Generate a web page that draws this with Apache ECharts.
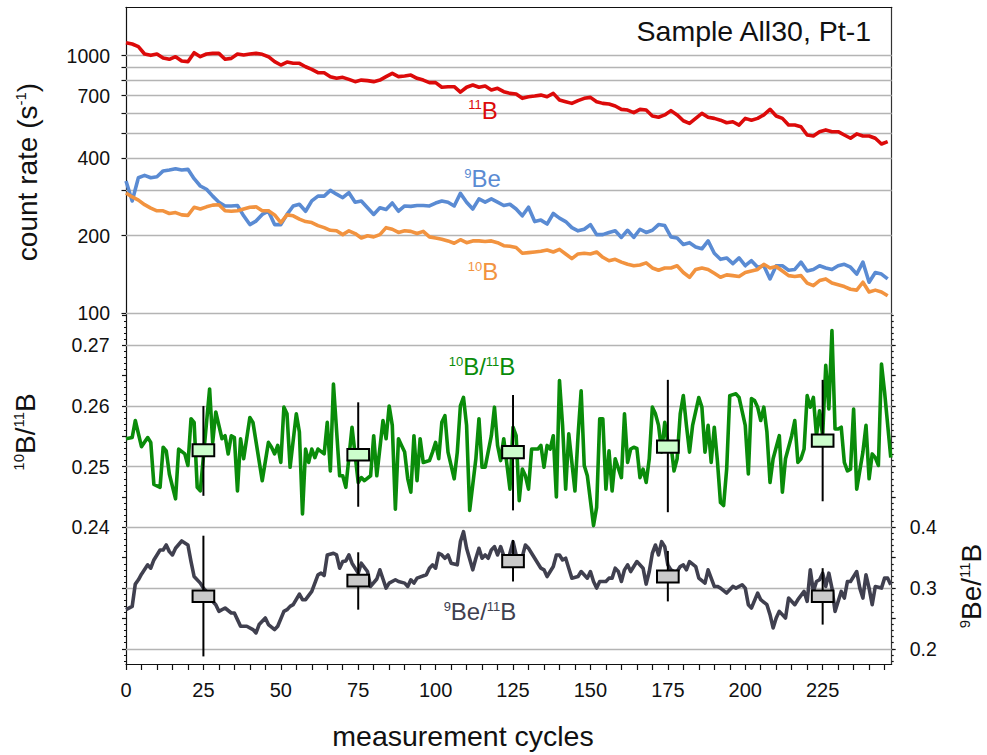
<!DOCTYPE html>
<html>
<head>
<meta charset="utf-8">
<script src="https://cdn.jsdelivr.net/npm/echarts@6/dist/echarts.min.js"></script>
<style>
  html, body { margin: 0; padding: 0; background: #fff; }
  #chart { width: 987px; height: 755px; }
</style>
</head>
<body>
<div id="chart"></div>
<script>
// ---------- measured count rates (every second cycle) ----------
const countCycles = [0,2,4,6,8,10,12,14,16,18,20,22,24,26,28,30,32,34,36,38,40,42,44,46,48,50,52,54,56,58,60,62,64,66,68,70,72,74,76,78,80,82,84,86,88,90,92,94,96,98,100,102,104,106,108,110,112,114,116,118,120,122,124,126,128,130,132,134,136,138,140,142,144,146,148,150,152,154,156,158,160,162,164,166,168,170,172,174,176,178,180,182,184,186,188,190,192,194,196,198,200,202,204,206,208,210,212,214,216,218,220,222,224,226,228,230,232,234,236,238,240,242,244,246];

const boron11Rate = [1123,1110,1084,1015,1003,1015,979,968,991,953,
  948,1027,991,1015,1021,1021,968,976,1015,1006,
  1015,1021,1012,991,948,920,945,934,934,906,
  885,859,859,829,817,824,809,793,804,800,
  793,804,829,854,829,834,841,817,804,786,
  786,754,758,758,722,754,769,754,762,736,
  747,725,714,710,683,693,697,703,693,714,
  673,663,653,669,683,689,663,653,649,638,
  619,615,601,619,615,583,577,589,612,589,
  559,546,571,597,577,571,562,549,554,538,
  571,562,571,589,619,583,571,538,538,530,
  492,488,507,515,507,507,492,478,497,488,
  488,478,454,464];

const beryllium9Rate = [326,273,336,343,336,339,357,360,364,360,
  362,333,312,303,285,270,261,261,262,239,
  221,228,242,249,221,221,242,261,265,249,
  273,285,285,300,290,281,294,270,273,257,
  242,257,253,268,249,261,260,262,262,261,
  268,273,270,261,292,270,254,278,270,278,
  270,262,265,254,239,258,227,230,222,244,
  234,227,215,209,212,221,202,202,206,209,
  197,210,197,212,206,210,221,219,198,196,
  185,188,181,178,191,171,162,164,156,164,
  153,160,151,153,136,153,153,147,148,158,
  146,148,153,150,148,153,155,151,142,158,
  132,144,142,136];

const boron10Rate = [293,283,275,264,256,250,250,244,246,241,
  240,258,254,259,263,264,250,249,250,254,
  258,259,250,250,241,225,241,239,232,227,
  225,219,215,210,209,202,209,204,196,200,
  198,202,215,212,206,209,208,204,208,198,
  196,194,191,187,193,188,191,191,190,191,
  188,183,182,180,171,172,173,174,176,173,
  177,170,163,170,171,170,173,165,160,162,
  158,155,153,154,157,150,147,150,150,153,
  144,138,148,150,148,143,138,141,140,139,
  144,146,148,155,150,152,146,140,139,140,
  131,128,134,136,131,129,127,124,123,132,
  121,123,121,117];

// ---------- isotope ratios ----------
const b10b11Cycles = [0,2,3,5,7,8,9,11,12,13,14,16,17,19,20,21,22,23,24,27,28,29,30,31,32,33,34,35,36,37,38,40,41,44,46,47,48,49,50,51,52,53,55,56,57,58,59,60,61,62,64,65,66,67,69,70,71,73,75,76,77,79,80,81,83,84,
  85,86,87,88,89,90,91,92,93,94,95,96,98,99,100,101,102,103,104,106,107,108,109,110,111,113,114,115,116,118,119,120,121,122,124,125,126,127,128,129,130,131,133,134,135,136,137,138,139,140,141,142,143,145,146,147,148,149,151,152,153,154,155,156,157,158,160,161,162,
  163,164,165,166,167,168,169,170,171,172,173,174,175,176,177,178,179,180,181,182,183,185,186,187,188,189,190,191,192,193,194,195,197,198,200,201,202,203,204,205,206,207,208,209,211,212,213,215,216,217,218,219,220,221,222,223,224,225,226,227,228,229,230,231,232,233,234,235,236,238,239,240,241,242,243,244,245,247];

const b10b11Ratio = [0.2546,0.2548,0.2576,0.2533,0.2548,0.2540,0.2471,0.2466,0.2532,0.2526,0.2488,0.2447,0.2529,0.2521,0.2502,0.2579,0.2573,0.2466,0.2460,0.2628,0.2540,0.2590,0.2568,0.2546,0.2551,0.2521,0.2551,0.2548,0.2460,0.2546,0.2513,0.2581,0.2573,0.2477,0.2540,0.2532,0.2521,0.2535,0.2507,0.2598,0.2587,0.2499,0.2587,0.2557,0.2422,0.2529,0.2507,0.2529,0.2515,0.2529,0.2521,0.2573,0.2493,0.2636,0.2485,0.2485,0.2466,0.2565,0.2474,0.2482,0.2477,0.2485,0.2551,0.2485,0.2576,0.2546,
  0.2600,0.2568,0.2430,0.2546,0.2535,0.2524,0.2480,0.2458,0.2551,0.2477,0.2546,0.2507,0.2510,0.2524,0.2540,0.2513,0.2573,0.2584,0.2524,0.2480,0.2524,0.2600,0.2614,0.2568,0.2428,0.2513,0.2579,0.2499,0.2499,0.2551,0.2598,0.2535,0.2510,0.2546,0.2463,0.2565,0.2551,0.2444,0.2496,0.2485,0.2463,0.2529,0.2529,0.2535,0.2499,0.2535,0.2529,0.2551,0.2450,0.2642,0.2568,0.2463,0.2554,0.2460,0.2551,0.2625,0.2502,0.2485,0.2403,0.2433,0.2579,0.2579,0.2463,0.2526,0.2460,0.2513,0.2482,0.2587,0.2507,
  0.2529,0.2532,0.2530,0.2482,0.2496,0.2474,0.2513,0.2598,0.2587,0.2568,0.2524,0.2573,0.2540,0.2537,0.2493,0.2513,0.2587,0.2617,0.2568,0.2524,0.2568,0.2614,0.2598,0.2524,0.2568,0.2507,0.2565,0.2510,0.2441,0.2436,0.2496,0.2617,0.2620,0.2614,0.2568,0.2488,0.2612,0.2609,0.2598,0.2576,0.2598,0.2557,0.2474,0.2513,0.2551,0.2458,0.2513,0.2551,0.2576,0.2507,0.2513,0.2529,0.2617,0.2598,0.2614,0.2551,0.2592,0.2551,0.2667,0.2595,0.2724,0.2562,0.2562,0.2565,0.2507,0.2493,0.2496,0.2595,0.2463,0.2524,0.2568,0.2480,0.2521,0.2515,0.2502,0.2669,0.2623,0.2515];

const be9b11Cycles = [0,2,3,4,5,7,8,9,10,11,12,13,14,15,16,18,20,21,22,24,25,26,27,29,30,32,34,35,36,37,39,41,42,43,45,46,48,49,51,52,53,54,56,57,58,60,62,63,64,65,67,68,69,70,71,72,73,75,76,78,79,81,82,83,84,85,87,88,90,91,92,93,94,97,98,99,100,101,102,103,104,105,107,108,109,110,112,113,114,115,116,117,118,119,120,121,123,125,126,127,128,129,130,132,134,135,136,138,139,140,141,142,143,144,146,147,149,150,151,152,153,155,156,157,158,159,160,161,162,163,164,165,167,168,169,170,171,172,173,174,175,176,177,178,179,180,181,182,184,185,187,188,190,191,192,194,196,197,199,200,201,202,204,205,207,208,209,210,211,213,214,216,217,219,220,221,222,223,224,225,226,227,228,229,231,232,233,234,236,237,238,239,240,241,242,244,245,246,247];

const be9b11Ratio = [0.2645,0.2699,0.3066,0.3137,0.3230,0.3383,0.3328,0.3464,0.3546,0.3628,0.3628,0.3710,0.3601,0.3546,0.3656,0.3776,0.3710,0.3437,0.3191,0.3082,0.3000,0.2945,0.2836,0.2727,0.2617,0.2672,0.2590,0.2590,0.2481,0.2372,0.2372,0.2317,0.2262,0.2399,0.2508,0.2399,0.2317,0.2372,0.2617,0.2645,0.2699,0.2727,0.2902,0.2809,0.2809,0.2945,0.3219,0.3246,0.3208,0.3546,0.3574,0.3546,0.3328,0.3437,0.3448,0.3546,0.3410,0.3246,0.3410,0.3273,0.3027,0.3150,0.3301,0.3150,0.3000,0.3082,0.3137,0.3109,0.3082,0.3027,0.3137,0.3082,0.3164,0.3219,0.3328,0.3383,0.3328,0.3574,0.3546,0.3492,0.3546,0.3410,0.3383,0.3765,0.3929,0.3656,0.3301,0.3492,0.3656,0.3492,0.3546,0.3492,0.3628,0.3683,0.3546,0.3683,0.3383,0.3765,0.3546,0.3492,0.3519,0.3710,0.3656,0.3492,0.3328,0.3301,0.3191,0.3355,0.3546,0.3546,0.3464,0.3492,0.3328,0.3164,0.3191,0.3273,0.3164,0.3273,0.3109,0.3000,0.3109,0.3109,0.3164,0.3164,0.3328,0.3273,0.3109,0.3301,0.3383,0.3273,0.3355,0.3437,0.3328,0.3066,0.3273,0.3574,0.3710,0.3546,0.3765,0.3683,0.3383,0.3301,0.3273,0.3273,0.3355,0.3383,0.3301,0.3437,0.3355,0.3164,0.3082,0.3301,0.3027,0.3027,0.3000,0.2918,0.3027,0.3000,0.3055,0.3000,0.2727,0.2672,0.2918,0.2809,0.2727,0.2563,0.2344,0.2508,0.2617,0.2508,0.2836,0.2727,0.2809,0.2945,0.2781,0.3301,0.2945,0.3109,0.3137,0.3246,0.3027,0.3246,0.3000,0.2617,0.2945,0.2836,0.3109,0.3109,0.3273,0.3000,0.2836,0.3219,0.3000,0.2727,0.3027,0.3000,0.3164,0.3164,0.3055];

// ---------- block summaries: box = standard error, whisker = scatter ----------
const blockCycles = [25, 75, 125, 175, 225];
const b10b11BoxLow   = [0.2517, 0.2510, 0.2514, 0.2523, 0.2533];
const b10b11BoxHigh  = [0.2537, 0.2529, 0.2534, 0.2543, 0.2553];
const b10b11WhiskLow = [0.2452, 0.2434, 0.2428, 0.2425, 0.2443];
const b10b11WhiskHigh= [0.2600, 0.2606, 0.2618, 0.2643, 0.2643];
const be9b11BoxLow   = [0.2770, 0.3027, 0.3344, 0.3093, 0.2770];
const be9b11BoxHigh  = [0.2962, 0.3219, 0.3546, 0.3290, 0.2962];
const be9b11WhiskLow = [0.1875, 0.2645, 0.3109, 0.2781, 0.2399];
const be9b11WhiskHigh= [0.3863, 0.3590, 0.3792, 0.3612, 0.3328];

// ---------- axis ticks / labels ----------
const countTickValues  = [100, 200, 300, 400, 500, 600, 700, 800, 900, 1000];
const countLabelValues = [100, 200, 400, 700, 1000];
const cycleLabelValues = [0, 25, 50, 75, 100, 125, 150, 175, 200, 225];
const b10b11LabelValues = [0.24, 0.25, 0.26, 0.27];
const be9b11LabelValues = [0.2, 0.3, 0.4];
const b10b11GridValues = [0.24, 0.25, 0.26, 0.27];
const be9b11GridValues = [0.2, 0.3];

function steps(from, to, step) {
  const out = [];
  for (let i = 0; from + i * step <= to + step * 1e-6; i++) out.push(+(from + i * step).toFixed(4));
  return out;
}
const cycleTickValues = steps(0, 245, 5);
const b10b11Major = steps(0.22, 0.275, 0.005);
const b10b11Minor = steps(0.218, 0.275, 0.001);
const be9b11Major = steps(0.2, 0.7, 0.05);
const be9b11Minor = steps(0.18, 0.75, 0.01);

const zip = (xs, ys) => xs.map((x, i) => [x, ys[i]]);
const boxes = (lo, hi, wlo, whi) => blockCycles.map((c, i) => [c, lo[i], hi[i], wlo[i], whi[i]]);

// ---------- styling ----------
const FONT = '"Liberation Sans", Arial, Helvetica, sans-serif';
const GRID = '#b4b4b4';
const AXIS = '#111';
const C_B11 = '#dc0a0a';
const C_BE9 = '#5a8bd3';
const C_B10 = '#f2933f';
const C_RATIO10 = '#0a8c0a';
const C_RATIO9 = '#40404f';

const xMin = 0, xMax = 247.3;

function hiddenAxisParts() {
  return { axisTick: { show: false }, axisLabel: { show: false }, splitLine: { show: false } };
}
function tickStyle(values, len) {
  return { show: true, inside: false, length: len, customValues: values, lineStyle: { color: AXIS, width: 1.2 } };
}
function gridMarks(values) {
  return {
    silent: true, symbol: 'none', animation: false,
    label: { show: false },
    emphasis: { disabled: true },
    lineStyle: { color: GRID, width: 1.3, type: 'solid' },
    data: values.map(v => ({ yAxis: v }))
  };
}
function renderBlock(fill) {
  return function (params, api) {
    const x = api.value(0);
    const top = api.coord([x, api.value(4)]);
    const bot = api.coord([x, api.value(3)]);
    const bHi = api.coord([x, api.value(2)]);
    const bLo = api.coord([x, api.value(1)]);
    const half = api.size([3.5, 0])[0];
    return {
      type: 'group',
      children: [
        { type: 'line', shape: { x1: top[0], y1: top[1], x2: bot[0], y2: bot[1] },
          style: { stroke: '#000', lineWidth: 2 } },
        { type: 'rect', shape: { x: bHi[0] - half, y: bHi[1], width: half * 2, height: bLo[1] - bHi[1] },
          style: { fill: fill, stroke: '#000', lineWidth: 2 } }
      ]
    };
  };
}
function lineSeries(name, xi, yi, data, color) {
  return {
    name, type: 'line', xAxisIndex: xi, yAxisIndex: yi, data,
    showSymbol: false, symbol: 'none', z: 10,
    lineStyle: { color, width: 3.6, join: 'round' }, itemStyle: { color }
  };
}
const labelText = { fontFamily: FONT, fontSize: 19.5, color: '#111' };

function richLabel(text, x, y, color, size, supSize, rotation, align) {
  return {
    type: 'text', x, y, rotation: rotation || 0, z: 20,
    style: {
      text, align: align || 'center', verticalAlign: 'middle',
      fontFamily: FONT, fontSize: size, fill: color,
      rich: {
        n: { fontFamily: FONT, fontSize: size, fill: color, lineHeight: size },
        s: { fontFamily: FONT, fontSize: supSize, fill: color, verticalAlign: 'top', lineHeight: size }
      }
    }
  };
}

const chart = echarts.init(document.getElementById('chart'), null, { renderer: 'svg', width: 987, height: 755 });

chart.setOption({
  animation: false,
  backgroundColor: '#fff',
  grid: [
    { left: 126, right: 95.3, top: 7.3, height: 306 },
    { left: 126, right: 95.3, top: 313.3, height: 350.7 }
  ],
  xAxis: [
    Object.assign({ gridIndex: 0, type: 'value', min: xMin, max: xMax, position: 'top',
      axisLine: { show: true, onZero: false, lineStyle: { color: AXIS, width: 1.2 } } }, hiddenAxisParts()),
    { gridIndex: 1, type: 'value', min: xMin, max: xMax, position: 'bottom',
      axisLine: { show: true, onZero: false, lineStyle: { color: AXIS, width: 1.2 } },
      axisTick: tickStyle(cycleTickValues, 6),
      axisLabel: Object.assign({ customValues: cycleLabelValues, margin: 16, fontSize: 20 }, { fontFamily: FONT, color: '#111' }),
      splitLine: { show: false } }
  ],
  yAxis: [
    { gridIndex: 0, type: 'log', logBase: 10, min: 100, max: 1541, position: 'left',
      axisLine: { show: true, onZero: false, lineStyle: { color: AXIS, width: 1.2 } },
      axisTick: tickStyle(countTickValues, 4.5),
      axisLabel: Object.assign({ customValues: countLabelValues, margin: 16, formatter: v => String(Math.round(v)) }, labelText),
      splitLine: { show: false }, minorTick: { show: false } },
    Object.assign({ gridIndex: 0, type: 'value', min: 0, max: 1, position: 'right',
      axisLine: { show: true, onZero: false, lineStyle: { color: '#333', width: 1.2 } } }, hiddenAxisParts()),
    { gridIndex: 1, type: 'value', min: 0.2175, max: 0.27526, position: 'left',
      axisLine: { show: true, onZero: false, lineStyle: { color: AXIS, width: 1.2 } },
      axisTick: tickStyle(b10b11Major, 4),
      axisLabel: Object.assign({ customValues: b10b11LabelValues, margin: 16.5, formatter: v => v.toFixed(2) }, labelText),
      splitLine: { show: false } },
    { gridIndex: 1, type: 'value', min: 0.2175, max: 0.27526, position: 'left',
      axisLine: { show: false }, axisTick: tickStyle(b10b11Minor, 2),
      axisLabel: { show: false }, splitLine: { show: false } },
    { gridIndex: 1, type: 'value', min: 0.175, max: 0.7526, position: 'right',
      axisLine: { show: true, onZero: false, lineStyle: { color: '#333', width: 1.2 } },
      axisTick: tickStyle(be9b11Major, 4),
      axisLabel: Object.assign({ customValues: be9b11LabelValues, margin: 18, formatter: v => v.toFixed(1) }, labelText),
      splitLine: { show: false } },
    { gridIndex: 1, type: 'value', min: 0.175, max: 0.7526, position: 'right',
      axisLine: { show: false }, axisTick: tickStyle(be9b11Minor, 2),
      axisLabel: { show: false }, splitLine: { show: false } }
  ],
  series: [
    // horizontal reference lines
    { type: 'line', xAxisIndex: 0, yAxisIndex: 0, data: [], z: 1, markLine: gridMarks(countTickValues) },
    { type: 'line', xAxisIndex: 1, yAxisIndex: 2, data: [], z: 1, markLine: gridMarks(b10b11GridValues) },
    { type: 'line', xAxisIndex: 1, yAxisIndex: 4, data: [], z: 1, markLine: gridMarks(be9b11GridValues) },
    // count rates
    lineSeries('11B', 0, 0, zip(countCycles, boron11Rate), C_B11),
    lineSeries('9Be', 0, 0, zip(countCycles, beryllium9Rate), C_BE9),
    lineSeries('10B', 0, 0, zip(countCycles, boron10Rate), C_B10),
    // ratios
    lineSeries('10B/11B', 1, 2, zip(b10b11Cycles, b10b11Ratio), C_RATIO10),
    lineSeries('9Be/11B', 1, 4, zip(be9b11Cycles, be9b11Ratio), C_RATIO9),
    // block means with errors
    { type: 'custom', xAxisIndex: 1, yAxisIndex: 2, z: 12, clip: false,
      renderItem: renderBlock('#ccfdcc'),
      data: boxes(b10b11BoxLow, b10b11BoxHigh, b10b11WhiskLow, b10b11WhiskHigh) },
    { type: 'custom', xAxisIndex: 1, yAxisIndex: 4, z: 12, clip: false,
      renderItem: renderBlock('#c9c9c9'),
      data: boxes(be9b11BoxLow, be9b11BoxHigh, be9b11WhiskLow, be9b11WhiskHigh) }
  ],
  graphic: [
    { type: 'text', x: 871, y: 31, z: 20,
      style: { text: 'Sample All30, Pt-1', align: 'right', verticalAlign: 'middle',
        fontFamily: FONT, fontSize: 28.5, fill: '#111' } },
    { type: 'text', x: 463, y: 736, z: 20,
      style: { text: 'measurement cycles', align: 'center', verticalAlign: 'middle',
        fontFamily: FONT, fontSize: 28.5, fill: '#111' } },
    richLabel('{n|count rate (s}{s|-1}{n|)}', 27, 172, '#111', 28, 15, Math.PI / 2),
    richLabel('{s|10}{n|B/}{s|11}{n|B}', 25, 432, '#111', 28, 15, Math.PI / 2),
    richLabel('{s|9}{n|Be/}{s|11}{n|B}', 971, 586, '#111', 28, 15, Math.PI / 2),
    richLabel('{s|11}{n|B}', 483, 110, C_B11, 24, 13),
    richLabel('{s|9}{n|Be}', 482.5, 178.5, C_BE9, 24, 13),
    richLabel('{s|10}{n|B}', 483, 271.5, C_B10, 24, 13),
    richLabel('{s|10}{n|B/}{s|11}{n|B}', 482, 366.5, C_RATIO10, 24, 13),
    richLabel('{s|9}{n|Be/}{s|11}{n|B}', 480, 611.5, C_RATIO9, 24, 13)
  ]
});
</script>
</body>
</html>
